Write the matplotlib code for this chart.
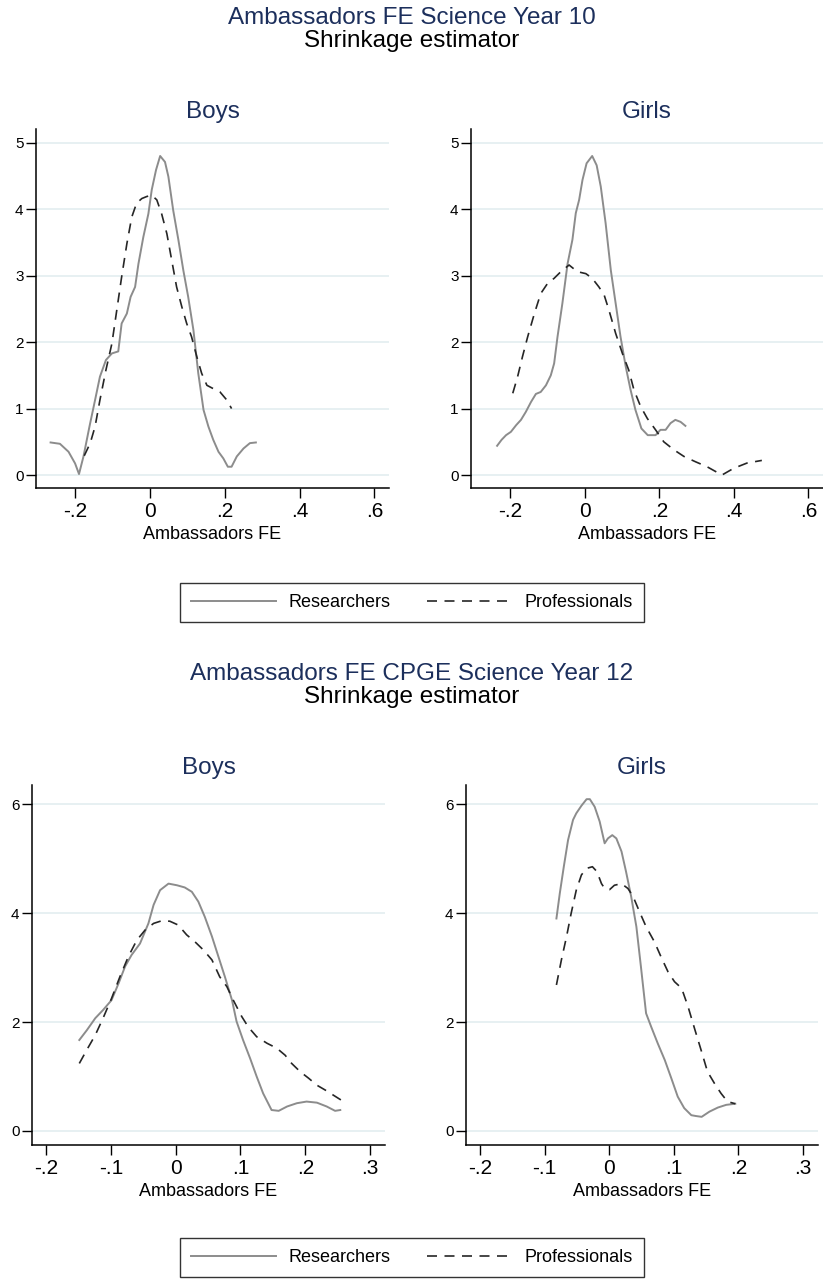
import matplotlib

matplotlib.use("Agg")
import matplotlib.pyplot as plt
from matplotlib.lines import Line2D

plt.rcParams["font.family"] = ["Liberation Sans", "DejaVu Sans"]

NAVY = "#1c2f5c"
GREY = "#8c8c8c"
DARK = "#262626"
GRID = "#e3edf0"

# --- Year 10, boys ---
y10_boys_res_x = [-0.266, -0.241, -0.218, -0.2005, -0.19, -0.178, -0.162, -0.147, -0.134, -0.118,
                  -0.102, -0.085, -0.076, -0.062, -0.052, -0.040, -0.031, -0.018, -0.0045, 0.0045,
                  0.016, 0.027, 0.040, 0.049, 0.062, 0.076, 0.089, 0.102, 0.116, 0.129,
                  0.143, 0.156, 0.169, 0.183, 0.196, 0.208, 0.218, 0.232, 0.25, 0.267, 0.283]
y10_boys_res_y = [0.49, 0.47, 0.35, 0.175, 0.015, 0.28, 0.73, 1.13, 1.48, 1.73,
                  1.83, 1.86, 2.28, 2.43, 2.68, 2.83, 3.18, 3.58, 3.93, 4.29,
                  4.59, 4.80, 4.71, 4.49, 3.98, 3.53, 3.08, 2.68, 2.18, 1.53,
                  0.98, 0.73, 0.53, 0.35, 0.25, 0.125, 0.125, 0.28, 0.40, 0.48, 0.49]
y10_boys_pro_x = [-0.176, -0.160, -0.147, -0.134, -0.118, -0.102, -0.089, -0.076, -0.062, -0.049,
                  -0.036, -0.022, -0.009, 0.0045, 0.018, 0.031, 0.045, 0.058, 0.071, 0.085,
                  0.098, 0.111, 0.125, 0.138, 0.152, 0.169, 0.187, 0.205, 0.218]
y10_boys_pro_y = [0.29, 0.48, 0.73, 1.13, 1.58, 1.98, 2.48, 2.98, 3.48, 3.88,
                  4.09, 4.16, 4.19, 4.21, 4.14, 3.93, 3.63, 3.23, 2.83, 2.53,
                  2.28, 2.08, 1.78, 1.53, 1.35, 1.30, 1.25, 1.13, 1.00]

# --- Year 10, girls ---
y10_girls_res_x = [-0.235, -0.223, -0.211, -0.198, -0.184, -0.171, -0.158, -0.144, -0.131, -0.118,
                   -0.104, -0.091, -0.082, -0.073, -0.060, -0.046, -0.033, -0.024, -0.015, -0.006,
                   0.005, 0.020, 0.032, 0.043, 0.056, 0.070, 0.083, 0.096, 0.110, 0.123,
                   0.136, 0.152, 0.169, 0.190, 0.203, 0.217, 0.230, 0.243, 0.257, 0.270]
y10_girls_res_y = [0.44, 0.53, 0.60, 0.65, 0.75, 0.83, 0.95, 1.10, 1.22, 1.25,
                   1.35, 1.50, 1.68, 2.08, 2.58, 3.18, 3.54, 3.94, 4.14, 4.44,
                   4.69, 4.80, 4.66, 4.34, 3.79, 3.08, 2.58, 2.08, 1.63, 1.28,
                   0.98, 0.70, 0.60, 0.60, 0.68, 0.68, 0.78, 0.83, 0.80, 0.74]
y10_girls_pro_x = [-0.193, -0.180, -0.167, -0.153, -0.135, -0.118, -0.100, -0.082, -0.064, -0.042,
                   -0.020, 0.003, 0.020, 0.038, 0.052, 0.065, 0.083, 0.101, 0.118, 0.132,
                   0.150, 0.168, 0.190, 0.212, 0.239, 0.266, 0.297, 0.328, 0.368, 0.399,
                   0.435, 0.475]
y10_girls_pro_y = [1.23, 1.48, 1.78, 2.08, 2.43, 2.73, 2.88, 2.96, 3.06, 3.16,
                   3.06, 3.03, 2.96, 2.83, 2.71, 2.48, 2.13, 1.83, 1.58, 1.28,
                   1.03, 0.85, 0.68, 0.50, 0.38, 0.28, 0.20, 0.125, 0.0, 0.10,
                   0.18, 0.22]

# --- CPGE Year 12, boys ---
y12_boys_res_x = [-0.1486, -0.137, -0.124, -0.112, -0.099, -0.088, -0.078, -0.068, -0.055, -0.042,
                  -0.034, -0.024, -0.011, 0.002, 0.014, 0.025, 0.035, 0.045, 0.056, 0.066,
                  0.076, 0.087, 0.094, 0.104, 0.115, 0.125, 0.135, 0.148, 0.159, 0.172,
                  0.187, 0.202, 0.218, 0.233, 0.246, 0.254]
y12_boys_res_y = [1.67, 1.85, 2.07, 2.22, 2.40, 2.71, 3.02, 3.23, 3.44, 3.81,
                  4.15, 4.42, 4.54, 4.51, 4.47, 4.39, 4.21, 3.93, 3.57, 3.20,
                  2.83, 2.40, 2.01, 1.67, 1.33, 1.00, 0.69, 0.385, 0.37, 0.45,
                  0.51, 0.54, 0.52, 0.45, 0.37, 0.385]
y12_boys_pro_x = [-0.1486, -0.137, -0.124, -0.112, -0.099, -0.086, -0.073, -0.060, -0.047, -0.034,
                  -0.021, -0.009, 0.004, 0.017, 0.030, 0.043, 0.056, 0.068, 0.079, 0.089,
                  0.102, 0.112, 0.125, 0.141, 0.156, 0.169, 0.179, 0.192, 0.205, 0.218,
                  0.231, 0.243, 0.259]
y12_boys_pro_y = [1.24, 1.49, 1.76, 2.07, 2.43, 2.83, 3.20, 3.50, 3.69, 3.81,
                  3.86, 3.85, 3.78, 3.60, 3.47, 3.32, 3.14, 2.83, 2.65, 2.40,
                  2.10, 1.91, 1.73, 1.61, 1.52, 1.39, 1.24, 1.09, 0.97, 0.84,
                  0.75, 0.66, 0.54]

# --- CPGE Year 12, girls ---
y12_girls_res_x = [-0.0817, -0.0765, -0.0703, -0.0637, -0.056, -0.051, -0.043, -0.035, -0.030, -0.0225,
                   -0.0148, -0.0071, -0.002, 0.0047, 0.011, 0.019, 0.026, 0.034, 0.042, 0.049,
                   0.057, 0.065, 0.075, 0.086, 0.096, 0.106, 0.116, 0.127, 0.134, 0.143,
                   0.155, 0.168, 0.181, 0.195]
y12_girls_res_y = [3.90, 4.36, 4.85, 5.34, 5.71, 5.83, 5.97, 6.09, 6.09, 5.95,
                   5.68, 5.28, 5.37, 5.43, 5.37, 5.13, 4.76, 4.30, 3.75, 3.02,
                   2.16, 1.91, 1.61, 1.30, 0.97, 0.63, 0.42, 0.29, 0.275, 0.26,
                   0.355, 0.43, 0.48, 0.50]
y12_girls_pro_x = [-0.0817, -0.074, -0.066, -0.059, -0.051, -0.043, -0.035, -0.026, -0.019, -0.012,
                   -0.007, 0.0006, 0.008, 0.019, 0.029, 0.037, 0.047, 0.057, 0.070, 0.080,
                   0.091, 0.101, 0.112, 0.122, 0.132, 0.142, 0.152, 0.163, 0.173, 0.183,
                   0.195]
y12_girls_pro_y = [2.68, 3.14, 3.57, 3.99, 4.42, 4.70, 4.82, 4.85, 4.76, 4.54,
                   4.45, 4.43, 4.51, 4.54, 4.45, 4.30, 4.02, 3.75, 3.47, 3.20,
                   2.92, 2.74, 2.62, 2.28, 1.88, 1.49, 1.09, 0.87, 0.69, 0.54,
                   0.50]

y10_xticks = [-0.2, 0, 0.2, 0.4, 0.6]
y10_xticklabels = ["-.2", "0", ".2", ".4", ".6"]
y10_yticks = [0, 1, 2, 3, 4, 5]
y12_xticks = [-0.2, -0.1, 0, 0.1, 0.2, 0.3]
y12_xticklabels = ["-.2", "-.1", "0", ".1", ".2", ".3"]
y12_yticks = [0, 2, 4, 6]

W, H = 823, 1280
fig = plt.figure(figsize=(W / 100, H / 100), dpi=100)


def px_axes(x0, x1, y_top, y_bot):
    return fig.add_axes([x0 / W, 1 - y_bot / H, (x1 - x0) / W, (y_bot - y_top) / H])


def panel(ax, title, res, pro, xlim, ylim, xticks, xlabels, yticks):
    ax.set_xlim(*xlim)
    ax.set_ylim(*ylim)
    for y in yticks:
        ax.axhline(y, color=GRID, lw=1.2, zorder=0)
    ax.plot(res[0], res[1], color=GREY, lw=1.4, solid_joinstyle="round")
    ln, = ax.plot(pro[0], pro[1], color=DARK, lw=1.2)
    ln.set_dashes((6, 4.5))
    ax.set_xticks(xticks)
    ax.set_xticklabels(xlabels, fontsize=15)
    ax.set_yticks(yticks)
    ax.set_yticklabels([str(v) for v in yticks], fontsize=11)
    ax.tick_params(axis="x", length=7, width=1, pad=3)
    ax.tick_params(axis="y", length=7, width=1, pad=2)
    for s in ("top", "right"):
        ax.spines[s].set_visible(False)
    for s in ("left", "bottom"):
        ax.spines[s].set_linewidth(1.1)
    ax.set_xlabel("Ambassadors FE", fontsize=13, labelpad=4)
    ax.set_title(title, fontsize=17.5, color=NAVY, pad=8)


y10_ylim = (-0.195, 5.206)
y10_xlim = (-0.305, 0.639)
y12_ylim = (-0.257, 6.35)
y12_xlim = (-0.2216, 0.323)

a1 = px_axes(36, 389, 129, 488)
panel(a1, "Boys", (y10_boys_res_x, y10_boys_res_y), (y10_boys_pro_x, y10_boys_pro_y),
      y10_xlim, y10_ylim, y10_xticks, y10_xticklabels, y10_yticks)
a2 = px_axes(471, 823, 129, 488)
panel(a2, "Girls", (y10_girls_res_x, y10_girls_res_y), (y10_girls_pro_x, y10_girls_pro_y),
      y10_xlim, y10_ylim, y10_xticks, y10_xticklabels, y10_yticks)
a3 = px_axes(32, 385, 785, 1145)
panel(a3, "Boys", (y12_boys_res_x, y12_boys_res_y), (y12_boys_pro_x, y12_boys_pro_y),
      y12_xlim, y12_ylim, y12_xticks, y12_xticklabels, y12_yticks)
a4 = px_axes(466, 818, 785, 1145)
panel(a4, "Girls", (y12_girls_res_x, y12_girls_res_y), (y12_girls_pro_x, y12_girls_pro_y),
      y12_xlim, y12_ylim, y12_xticks, y12_xticklabels, y12_yticks)

fig.text(411.5 / W, 1 - 18 / H, "Ambassadors FE Science Year 10", ha="center", va="center",
         fontsize=17.5, color=NAVY)
fig.text(411.5 / W, 1 - 41 / H, "Shrinkage estimator", ha="center", va="center", fontsize=17.5)
fig.text(411.5 / W, 1 - 674 / H, "Ambassadors FE CPGE Science Year 12", ha="center", va="center",
         fontsize=17.5, color=NAVY)
fig.text(411.5 / W, 1 - 697 / H, "Shrinkage estimator", ha="center", va="center", fontsize=17.5)

handles = [Line2D([], [], color=GREY, lw=1.4),
           Line2D([], [], color=DARK, lw=1.2, dashes=(6, 4.5))]
for cy in (602.5, 1257.5):
    leg = fig.legend(handles, ["Researchers", "Professionals"], loc="center",
                     bbox_to_anchor=(412 / W, 1 - cy / H), ncol=2, fontsize=13,
                     frameon=True, fancybox=False, edgecolor="black", handlelength=4.7,
                     handletextpad=0.7, columnspacing=2.0, borderpad=0.6)
    leg.get_frame().set_linewidth(1.0)

fig.savefig("out.png", dpi=100)
